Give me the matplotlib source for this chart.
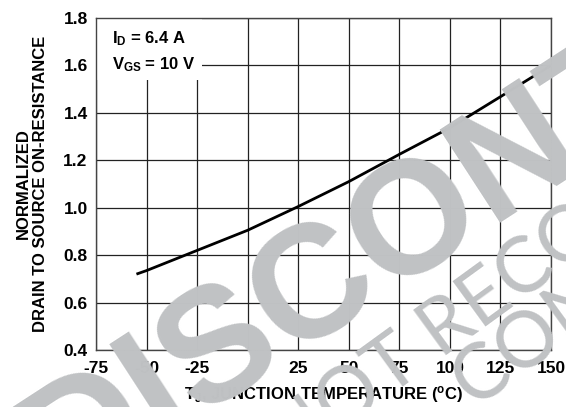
import numpy as np
import matplotlib
matplotlib.use('Agg')
import matplotlib.pyplot as plt
from matplotlib.patches import Rectangle

plt.rcParams['font.family'] = 'Liberation Sans'
plt.rcParams['font.weight'] = 'bold'
plt.rcParams['axes.labelweight'] = 'bold'
plt.rcParams['mathtext.fontset'] = 'custom'
plt.rcParams['mathtext.rm'] = 'Liberation Sans:bold'
plt.rcParams['mathtext.it'] = 'Liberation Sans:bold'
plt.rcParams['mathtext.bf'] = 'Liberation Sans:bold'

# junction temperature (C) vs normalized on-resistance
temp = [-55, -50, -25, 0, 25, 50, 75, 100, 125, 150]
rdson = [0.72, 0.735, 0.82, 0.905, 1.005, 1.11, 1.225, 1.337, 1.468, 1.60]

xticks = [-75, -50, -25, 0, 25, 50, 75, 100, 125, 150]
xticklabels = ['-75', '-50', '-25', '', '25', '50', '75', '100', '125', '150']
yticks = [0.4, 0.6, 0.8, 1.0, 1.2, 1.4, 1.6, 1.8]

fig = plt.figure(figsize=(5.66, 4.07), dpi=100)
ax = fig.add_axes([0.1696, 0.140, 0.8039, 0.8158])

ax.plot(temp, rdson, color='black', lw=2.0, zorder=3, solid_capstyle='butt')
ax.set_xlim(-75, 150)
ax.set_ylim(0.4, 1.8)
ax.set_xticks(xticks)
ax.set_xticklabels(xticklabels)
ax.set_yticks(yticks)
ax.set_yticklabels(['%.1f' % v for v in yticks])
ax.tick_params(labelsize=12.5, length=0)
ax.tick_params(axis='x', pad=8)
ax.tick_params(axis='y', pad=6)
ax.grid(True, color='#222222', lw=0.9)
for s in ax.spines.values():
    s.set_color('#444444')
    s.set_linewidth(1.0)

# conditions box
ax.add_patch(Rectangle((-75, 1.538), 52.4, 0.262, facecolor='white', edgecolor='none', zorder=2))
ax.text(-67, 1.711, '$I_D$ = 6.4 A', fontsize=12, va='center', ha='left', zorder=4)
ax.text(-67, 1.602, '$V_{GS}$ = 10 V', fontsize=12, va='center', ha='left', zorder=4)

ax.set_xlabel('T$_J$, JUNCTION TEMPERATURE ($^o$C)', fontsize=12, labelpad=6)
ax.set_ylabel('NORMALIZED\nDRAIN TO SOURCE ON-RESISTANCE', fontsize=12, labelpad=11)

# watermark
wm = '#c0c2c4'
fig.text(62 / 566, 1 - 500 / 407, 'DISCONTINUED', fontsize=116, fontweight='bold',
         color=wm, rotation=33, rotation_mode='anchor', ha='left', va='baseline', zorder=10)
fig.text(290 / 566, 1 - 470 / 407, 'NOT RECOMMENDED FOR NEW DESIGN', fontsize=56,
         family='Lato', fontweight='normal', color=wm, rotation=36, rotation_mode='anchor',
         ha='left', va='baseline', zorder=9)
fig.text(475 / 566, 1 - 411 / 407, 'CONTACT US', fontsize=56,
         family='Lato', fontweight='normal', color=wm, rotation=36, rotation_mode='anchor',
         ha='left', va='baseline', zorder=9)

fig.savefig('out.png', dpi=100)
